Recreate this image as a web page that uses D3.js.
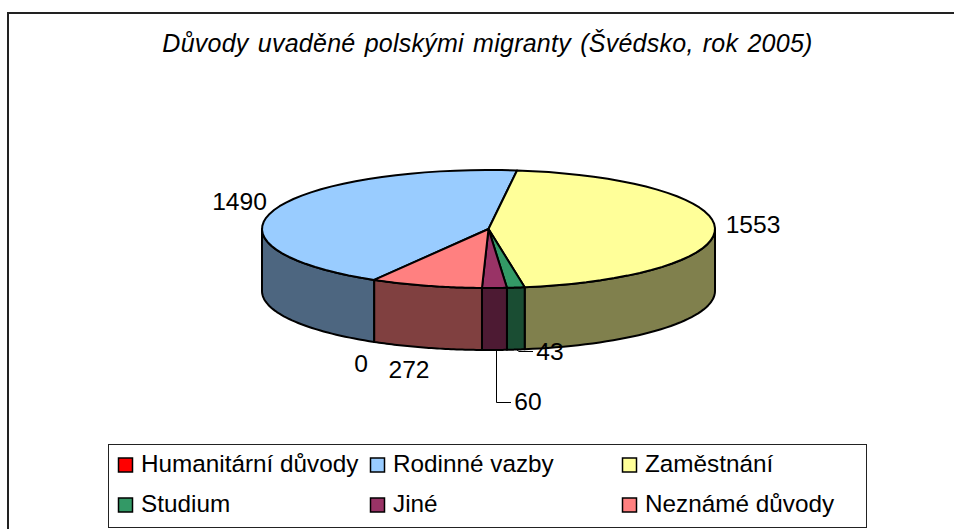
<!DOCTYPE html>
<html><head><meta charset="utf-8">
<script src="https://cdnjs.cloudflare.com/ajax/libs/d3/7.8.5/d3.min.js"></script>
<style>html,body{margin:0;background:#fff}svg{display:block}text{font-family:"Liberation Sans",Arial,sans-serif;fill:#000}</style>
</head><body><svg id="c" width="954" height="529"></svg>
<script>
const categories = ["Humanitární důvody","Rodinné vazby","Zaměstnání","Studium","Jiné","Neznámé důvody"];
const values = [0,1490,1553,43,60,272];
const topColors = ["#ff0000","#99ccff","#ffff99","#339966","#993366","#ff8080"];
const sideColors = ["#800000","#4d6680","#80804d","#1a4d33","#4d1a33","#804040"];
const titleText = "Důvody uvaděné polskými migranty (Švédsko, rok 2005)";
const startDeg = 210.3;

const svg = d3.select("#c");
const cx=488.5, cy=229, rx=226.5, ry=59, depth=62;
const X = d3.scaleLinear().domain([-1,1]).range([cx-rx,cx+rx]);
const Y = d3.scaleLinear().domain([-1,1]).range([cy-ry,cy+ry]);
const rad = d=>d*Math.PI/180;
const pie = d3.pie().sort(null).startAngle(rad(startDeg)).endAngle(rad(startDeg+360))(values);

svg.append("path").attr("d","M8 529V13H954").attr("fill","none").attr("stroke","#222").attr("stroke-width",2);

svg.append("text").attr("x",487.5).attr("y",52).attr("text-anchor","middle").attr("font-size",25).attr("font-style","italic").attr("letter-spacing",0.25).attr("word-spacing",2).text(titleText);

const pt=(a,dy=0)=>[X(Math.sin(a)),Y(-Math.cos(a))+dy];
const samples=(a0,a1,dy=0)=>d3.range(0,41).map(i=>pt(a0+(a1-a0)*i/40,dy));
const line=d3.line();
const visible=(a0,a1)=>{
  const out=[];
  for(const k of [0,2*Math.PI]){
    const s=Math.max(a0,Math.PI/2+k), e=Math.min(a1,1.5*Math.PI+k);
    if(e>s) out.push([s,e]);
  }
  return out;
};
const sideG=svg.append("g"), topG=svg.append("g");
pie.forEach((p,i)=>{
  visible(p.startAngle,p.endAngle).forEach(([s,e])=>{
    const pts=samples(s,e).concat(samples(e,s,depth));
    sideG.append("path").attr("d",line(pts)+"Z").attr("fill",sideColors[i]).attr("stroke","#000").attr("stroke-width",2).attr("stroke-linejoin","round");
  });
});
pie.forEach((p,i)=>{
  if(p.endAngle-p.startAngle<=0) return;
  const pts=[[cx,cy]].concat(samples(p.startAngle,p.endAngle));
  topG.append("path").attr("d",line(pts)+"Z").attr("fill",topColors[i]).attr("stroke","#000").attr("stroke-width",2).attr("stroke-linejoin","round");
});

const labelPos=[[361,372],[239.5,210],[753,233],[550,360],[528,410],[409,378]];
values.forEach((v,i)=>svg.append("text").attr("x",labelPos[i][0]).attr("y",labelPos[i][1]).attr("text-anchor","middle").attr("font-size",24.6).text(v));
const lead=(pts)=>svg.append("path").attr("d",line(pts)).attr("fill","none").attr("stroke","#000").attr("stroke-width",1);
lead([[496.5,349],[496.5,402.5],[511,402.5]]);
lead([[517,350],[519,351.5],[533,351.5]]);

const lx=108.5, ly=444.5;
svg.append("rect").attr("x",lx).attr("y",ly).attr("width",758).attr("height",83).attr("fill","#fff").attr("stroke","#222").attr("stroke-width",1);
const colX=[118,370,622], rowY=[464,504];
categories.forEach((c,i)=>{
  const x=colX[i%3], y=rowY[Math.floor(i/3)];
  svg.append("rect").attr("x",x+.5).attr("y",y-6).attr("width",14).attr("height",14).attr("fill",topColors[i]).attr("stroke","#000").attr("stroke-width",1.5);
  svg.append("text").attr("x",x+23).attr("y",y+8).attr("font-size",24.3).text(c);
});
</script></body></html>
